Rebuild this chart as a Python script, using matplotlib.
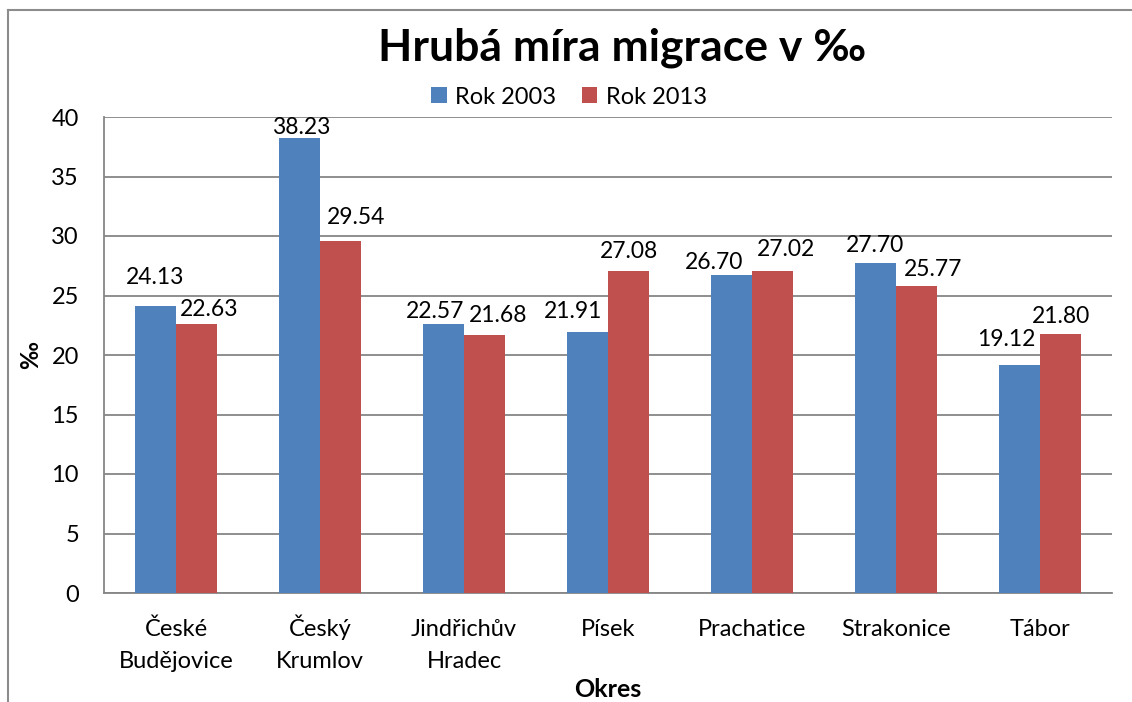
import matplotlib
matplotlib.use('Agg')
import matplotlib.pyplot as plt
import numpy as np
from matplotlib.lines import Line2D

plt.rcParams['font.family'] = ['Lato', 'DejaVu Sans']

# data
okresy = ['České\nBudějovice', 'Český\nKrumlov', 'Jindřichův\nHradec', 'Písek',
          'Prachatice', 'Strakonice', 'Tábor']
rok_2003 = [24.13, 38.23, 22.57, 21.91, 26.70, 27.70, 19.12]
rok_2013 = [22.63, 29.54, 21.68, 27.08, 27.02, 25.77, 21.80]
serie_nazvy = ['Rok 2003', 'Rok 2013']
y_ticks = [0, 5, 10, 15, 20, 25, 30, 35, 40]

# label nudges in pixels (dx, dy), the labels were dragged by hand in the original
posun_2003 = [(0, 11), (2, -6), (-8, -4), (-14, 4), (-17, -4), (0, 1), (-13, 9)]
posun_2013 = [(13, -3), (16, 7), (14, 3), (0, 2), (13, 5), (17, 0), (0, 0)]

modra = '#4F81BD'
cervena = '#C0504D'
seda = '#868686'

fig = plt.figure(figsize=(11.32, 7.02), dpi=100)
ax = fig.add_axes([104 / 1132, 1 - 593 / 702, 1008 / 1132, 476 / 702])

x = np.arange(len(okresy))
w = 0.285
b1 = ax.bar(x - w / 2, rok_2003, w, color=modra, label=serie_nazvy[0], zorder=3)
b2 = ax.bar(x + w / 2, rok_2013, w, color=cervena, label=serie_nazvy[1], zorder=3)

px = 0.72  # one pixel in points
for bars, vals, posun in [(b1, rok_2003, posun_2003), (b2, rok_2013, posun_2013)]:
    for r, v, (dx, dy) in zip(bars, vals, posun):
        ax.annotate('%.2f' % v, (r.get_x() + r.get_width() / 2, v),
                    xytext=(dx * px, (17 + dy) * px), textcoords='offset points',
                    ha='center', va='center', fontsize=16.5, zorder=4)

ax.set_xlim(-0.5, len(okresy) - 0.5)
ax.set_ylim(0, 40)
ax.set_yticks(y_ticks)

# category names: first line on the main axis, second line on a secondary axis,
# so every line sits on the same baseline as in the original
radek1 = [o.split('\n')[0] for o in okresy]
radek2 = [o.split('\n')[1] if '\n' in o else '' for o in okresy]
ax.set_xticks(x)
ax.set_xticklabels(radek1, fontsize=17, va='baseline')
ax.tick_params(axis='x', length=0, pad=31)
sec = ax.secondary_xaxis('bottom')
sec.set_xticks(x)
sec.set_xticklabels(radek2, fontsize=17, va='baseline')
sec.tick_params(axis='x', length=0, pad=54)
sec.spines['bottom'].set_visible(False)

ax.tick_params(axis='y', length=0, pad=18, labelsize=17)
ax.grid(axis='y', color=seda, linewidth=1.3, zorder=0)
for s in ['top', 'right']:
    ax.spines[s].set_visible(False)
for s in ['left', 'bottom']:
    ax.spines[s].set_color(seda)
    ax.spines[s].set_linewidth(1.3)

ax.set_ylabel('‰', fontsize=17, fontweight='bold', labelpad=7)
sec.set_xlabel('Okres', fontsize=18, fontweight='bold', labelpad=4)

fig.text(622 / 1132, 1 - 48 / 702, 'Hrubá míra migrace v ‰', ha='center', va='center',
         fontsize=32, fontweight='bold')

fig.legend(handles=[b1, b2], labels=serie_nazvy, loc='center', ncol=2,
           bbox_to_anchor=(569 / 1132, 1 - 97 / 702), frameon=False, fontsize=17,
           handlelength=0.65, handleheight=0.65, handletextpad=0.35, columnspacing=1.1)

# chart area outline (only left and top are visible in the original crop)
fig.add_artist(Line2D([8 / 1132, 1.0], [1 - 10 / 702, 1 - 10 / 702], color='#8c8c8c',
                      linewidth=1.5, transform=fig.transFigure))
fig.add_artist(Line2D([8 / 1132, 8 / 1132], [0, 1 - 10 / 702], color='#8c8c8c',
                      linewidth=1.5, transform=fig.transFigure))

fig.savefig('out.png', dpi=100)
